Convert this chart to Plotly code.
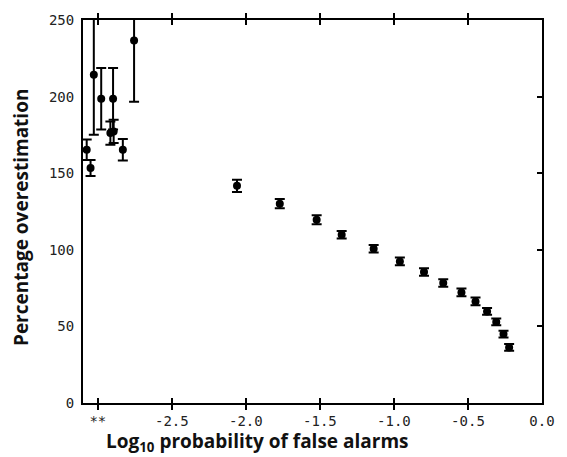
import plotly.graph_objects as go

# Left cluster (near broken axis "**")
cluster_x = [-3.075, -3.049, -3.027, -2.977, -2.897, -2.915, -2.893, -2.831, -2.755]
cluster_y = [165.3, 153.4, 214.3, 198.6, 198.6, 176.2, 177.3, 165.3, 236.7]
cluster_err = [6.7, 5.2, 39.2, 20.0, 20.0, 7.6, 7.6, 7.0, 40.0]

# Main series
main_x = [-2.06, -1.771, -1.522, -1.353, -1.137, -0.96, -0.797, -0.667,
          -0.544, -0.449, -0.371, -0.309, -0.26, -0.222]
main_y = [141.8, 130.1, 119.6, 109.8, 100.7, 92.4, 85.5, 78.3,
          72.2, 66.3, 59.8, 52.9, 45.0, 36.3]
main_err = [4.0, 3.0, 3.0, 2.5, 2.5, 2.5, 2.5, 2.5, 2.5, 2.5, 2.2, 2.2, 2.2, 2.2]

x_tickvals = [-3.0, -2.5, -2.0, -1.5, -1.0, -0.5, 0.0]
x_ticktext = ["**", "-2.5", "-2.0", "-1.5", "-1.0", "-0.5", "0.0"]
y_tickvals = [0, 50, 100, 150, 200, 250]
y_ticktext = ["0", "50", "100", "150", "200", "250"]

x_title = "Log<sub>10</sub> probability of false alarms"
y_title = "Percentage overestimation"

fig = go.Figure()
for xs, ys, es in [(cluster_x, cluster_y, cluster_err), (main_x, main_y, main_err)]:
    fig.add_trace(go.Scatter(
        x=xs, y=ys, mode="markers",
        marker=dict(color="black", size=8),
        error_y=dict(type="data", array=es, color="black", thickness=2, width=5),
        showlegend=False, cliponaxis=True,
    ))

# invisible trace on yaxis2 to draw right-side ticks
fig.add_trace(go.Scatter(x=[None], y=[None], yaxis="y2", showlegend=False))

tick_font = dict(family="DejaVu Sans Mono", size=14, color="#222")
title_font = dict(family="Open Sans", size=19, color="#111", weight="bold")

fig.update_layout(
    width=567, height=457,
    margin=dict(l=83, r=19, t=20, b=54),
    paper_bgcolor="white", plot_bgcolor="white",
    xaxis=dict(
        range=[-3.1, 0.0], tickvals=x_tickvals, ticktext=x_ticktext,
        ticks="inside", ticklen=5, tickwidth=2, tickcolor="black",
        showline=True, linecolor="black", linewidth=2, mirror="allticks",
        showgrid=False, zeroline=False, tickfont=tick_font,
        ticklabeloverflow="allow", ticklabelstandoff=4,
    ),
    yaxis=dict(
        range=[0, 250], tickvals=y_tickvals, ticktext=y_ticktext,
        ticks="", showline=True, linecolor="black", linewidth=2, mirror=True,
        showgrid=False, zeroline=False, tickfont=tick_font, ticklabelstandoff=4,
    ),
    yaxis2=dict(
        range=[0, 250], tickvals=y_tickvals, overlaying="y", side="right",
        ticks="inside", ticklen=5, tickwidth=2, tickcolor="black",
        showticklabels=False, showgrid=False, zeroline=False, showline=False,
    ),
    annotations=[
        dict(text=x_title, xref="paper", yref="paper", x=0.38, y=-0.103,
             xanchor="center", yanchor="middle", showarrow=False, font=title_font),
        dict(text=y_title, xref="paper", yref="paper", x=-0.135, y=0.483,
             xanchor="center", yanchor="middle", showarrow=False, textangle=-90,
             font=title_font),
    ],
)

fig.write_html(
    "out.html",
    config={"displayModeBar": False},
    post_script="document.body.style.margin='0';document.body.style.overflow='hidden';",
)
